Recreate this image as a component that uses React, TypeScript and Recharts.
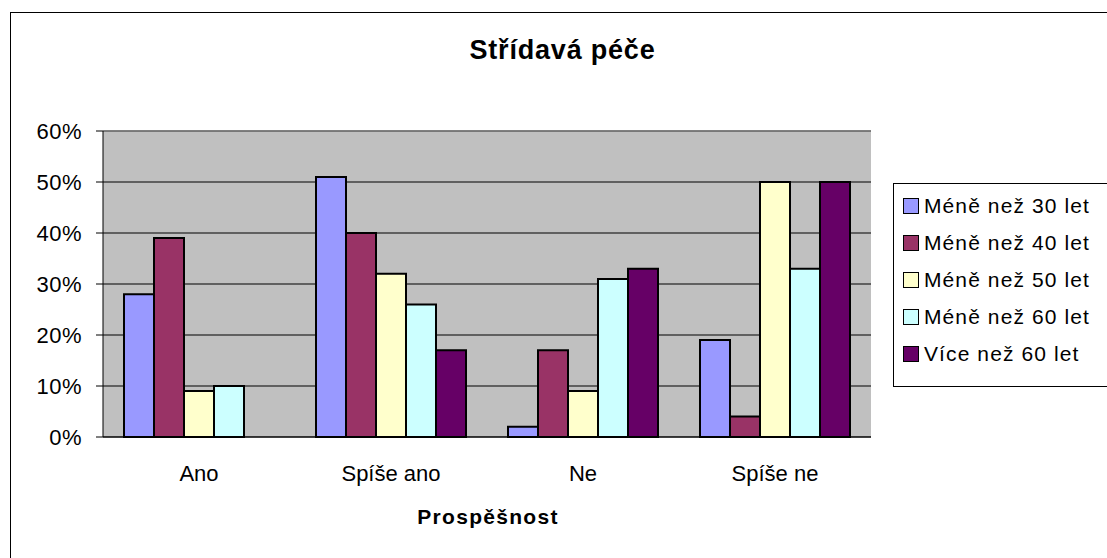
import { BarChart, Bar, XAxis, YAxis, CartesianGrid, ReferenceLine } from 'recharts';

const categories = ['Ano', 'Spíše ano', 'Ne', 'Spíše ne'];
const under30 = [0.28, 0.51, 0.02, 0.19];
const under40 = [0.39, 0.40, 0.17, 0.04];
const under50 = [0.09, 0.32, 0.09, 0.50];
const under60 = [0.10, 0.26, 0.31, 0.33];
const over60 = [0, 0.17, 0.33, 0.50];
const yTicks = [0, 0.1, 0.2, 0.3, 0.4, 0.5, 0.6];
const boundaryTicks = [0, 1, 2, 3, 4];

const series = [
  { key: 'a', name: 'Méně než 30 let', values: under30, color: '#9999FF' },
  { key: 'b', name: 'Méně než 40 let', values: under40, color: '#993366' },
  { key: 'c', name: 'Méně než 50 let', values: under50, color: '#FFFFCC' },
  { key: 'd', name: 'Méně než 60 let', values: under60, color: '#CCFFFF' },
  { key: 'e', name: 'Více než 60 let', values: over60, color: '#660066' },
];

const chartData = categories.map((cat, i) => {
  const row: Record<string, string | number> = { cat };
  series.forEach(s => { row[s.key] = s.values[i]; });
  return row;
});

const font = '"Liberation Sans", Arial, sans-serif';

const App = () => {
  return (
    <div style={{ position: 'absolute', left: 0, top: 0, width: 1107, height: 558, overflow: 'hidden', background: '#fff', fontFamily: font }}>
      <div style={{ position: 'absolute', left: 10, top: 12, width: 1200, height: 600, border: '1px solid #000' }} />
      <div style={{ position: 'absolute', left: 0, width: 1125, top: 35, textAlign: 'center', fontSize: 27, fontWeight: 'bold', letterSpacing: 0.8, color: '#000' }}>
        Střídavá péče
      </div>
      <div style={{ position: 'absolute', left: 0, width: 976, top: 505, textAlign: 'center', fontSize: 21, fontWeight: 'bold', letterSpacing: 1.3, color: '#000' }}>
        Prospěšnost
      </div>
      <div style={{ position: 'absolute', left: 0, top: 0 }}>
        <BarChart
          width={1107}
          height={558}
          data={chartData}
          margin={{ top: 131, right: 236, left: 43, bottom: 71 }}
          barGap={0}
          barCategoryGap={21}
        >
          <CartesianGrid fill="#C0C0C0" stroke="#000" vertical={false} strokeOpacity={1} />
          <XAxis
            xAxisId="edge"
            type="number"
            domain={[0, 4]}
            ticks={boundaryTicks}
            allowDataOverflow
            height={0}
            tick={false}
            tickLine={{ stroke: '#000' }}
            tickSize={7}
            axisLine={false}
          />
          <XAxis
            dataKey="cat"
            height={50}
            tickLine={false}
            axisLine={{ stroke: '#000' }}
            tickSize={7}
            tickMargin={21}
            tick={{ fill: '#000', fontSize: 22, fontFamily: font }}
          />
          <YAxis
            width={60}
            domain={[0, 0.6]}
            ticks={yTicks}
            tickFormatter={(v: number) => `${Math.round(v * 100)}%`}
            axisLine={{ stroke: '#000' }}
            tickLine={{ stroke: '#000' }}
            tickSize={7}
            tickMargin={14}
            tick={{ fill: '#000', fontSize: 22, fontFamily: font, letterSpacing: 0.5 }}
          />
          <ReferenceLine y={0.6} stroke="#808080" strokeWidth={1.5} />
          <ReferenceLine xAxisId="edge" x={4} stroke="#808080" strokeWidth={1.5} />
          {series.map(s => (
            <Bar
              key={s.key}
              dataKey={s.key}
              name={s.name}
              fill={s.color}
              stroke="#000"
              strokeWidth={2}
              isAnimationActive={false}
            />
          ))}
        </BarChart>
      </div>
      <div style={{ position: 'absolute', left: 893, top: 183, width: 300, height: 202, border: '1px solid #000', background: '#fff' }}>
        {series.map((s, i) => (
          <div key={s.key} style={{ position: 'absolute', left: 9, top: 7 + i * 37, height: 30, display: 'flex', alignItems: 'center', fontSize: 21, letterSpacing: 1.1, color: '#000', whiteSpace: 'nowrap' }}>
            <span style={{ display: 'inline-block', width: 14, height: 14, background: s.color, border: '1px solid #000', marginRight: 5 }} />
            {s.name}
          </div>
        ))}
      </div>
    </div>
  );
};

export default App;
